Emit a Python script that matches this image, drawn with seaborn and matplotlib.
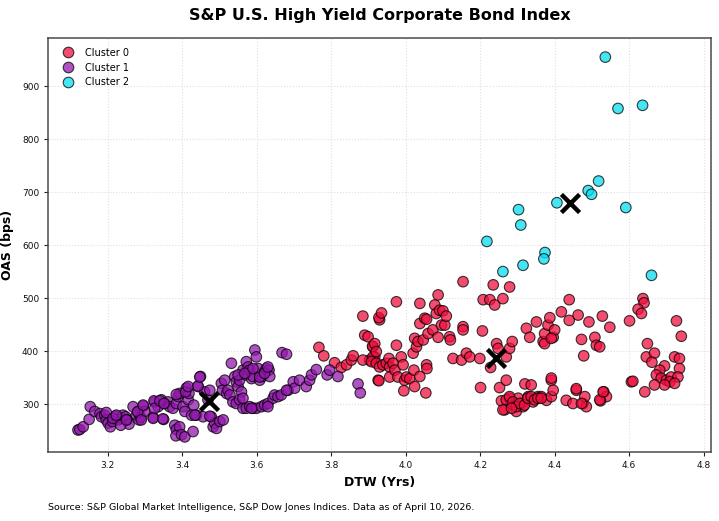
import matplotlib
matplotlib.use('Agg')
import matplotlib.pyplot as plt
import seaborn as sns
import pandas as pd

# data kluster (DTW dalam tahun, OAS dalam bps)
dtw_c0 = [3.767, 3.780, 3.809, 3.827, 3.841, 3.854, 3.859, 3.885, 3.890, 3.899, 3.903, 3.912, 3.917, 3.926, 3.930,
          3.885, 3.911, 3.917, 3.912, 3.921, 3.928, 3.935, 3.928, 3.908, 3.921, 3.930, 3.939, 3.948, 3.955, 3.957,
          3.957, 3.966, 3.971, 3.975, 3.975, 3.979, 3.988, 3.993, 3.997, 3.995, 4.002, 4.011, 4.020, 4.022, 4.024,
          4.024, 4.029, 4.033, 4.038, 4.038, 4.038, 4.047, 4.051, 4.056, 4.054, 4.056, 4.057, 4.060, 4.073, 4.078,
          4.082, 4.087, 4.087, 4.091, 4.096, 4.105, 4.100, 4.109, 4.118, 4.120, 4.127, 4.150, 4.154, 4.154, 4.154,
          4.163, 4.172, 4.199, 4.201, 4.206, 4.208, 4.226, 4.235, 4.239, 4.261, 4.279, 4.244, 4.248, 4.270, 4.279,
          4.286, 4.228, 4.252, 4.270, 4.257, 4.266, 4.279, 4.284, 4.297, 4.302, 4.311, 4.315, 4.320, 4.324, 4.329,
          4.333, 4.337, 4.342, 4.351, 4.355, 4.364, 4.369, 4.373, 4.378, 4.373, 4.382, 4.387, 4.391, 4.391, 4.396,
          4.400, 4.396, 4.418, 4.431, 4.439, 4.439, 4.449, 4.458, 4.463, 4.472, 4.476, 4.481, 4.485, 4.478, 4.492,
          4.508, 4.512, 4.521, 4.528, 4.532, 4.539, 4.523, 4.548,
          4.270, 4.279, 4.288, 4.297, 4.306, 4.319, 4.328, 4.337, 4.346, 4.355, 4.364, 4.261, 4.284,
          4.391, 4.458, 4.472, 4.521, 4.530, 4.606, 4.391,
          4.637, 4.640, 4.624, 4.633, 4.601, 4.727, 4.740, 4.649, 4.646, 4.668, 4.661, 4.722, 4.735, 4.695, 4.735,
          4.682, 4.673, 4.686, 4.700, 4.713, 4.731, 4.709, 4.722, 4.695, 4.668, 4.610, 4.642]
oas_c0 = [407, 391, 378, 369, 374, 383, 391, 466, 430, 427, 383, 408, 389, 345, 459,
          383, 409, 414, 389, 399, 463, 472, 344, 380, 377, 370, 374, 377, 386, 370,
          351, 377, 364, 411, 493, 351, 389, 374, 345, 325, 351, 348, 396, 364, 424,
          333, 408, 418, 490, 452, 352, 421, 462, 460, 321, 374, 367, 433, 440, 487,
          471, 506, 426, 477, 449, 449, 476, 466, 427, 421, 386, 383, 531, 446, 440,
          396, 389, 386, 331, 438, 497, 497, 525, 487, 499, 521, 414, 405, 389, 405,
          418, 369, 331, 345, 306, 289, 311, 301, 286, 311, 301, 295, 338, 443, 314,
          426, 336, 304, 455, 314, 314, 418, 414, 307, 433, 449, 463, 314, 345, 426,
          440, 326, 474, 307, 497, 458, 301, 326, 468, 422, 301, 314, 295, 391, 455,
          426, 411, 408, 466, 323, 314, 306, 445,
          308, 314, 304, 295, 301, 298, 311, 314, 308, 311, 311, 289, 292,
          349, 329, 301, 308, 323, 342, 424,
          499, 491, 479, 471, 457, 457, 428, 414, 389, 396, 379, 389, 386, 372, 367,
          364, 355, 349, 345, 351, 351, 342, 339, 336, 336, 343, 323]

dtw_c1 = [3.120, 3.125, 3.134, 3.150, 3.153, 3.165, 3.179, 3.183, 3.192, 3.196, 3.201, 3.207, 3.213, 3.221, 3.228,
          3.237, 3.241, 3.248, 3.252, 3.257, 3.268, 3.277, 3.281, 3.284, 3.289, 3.295, 3.299, 3.322, 3.326, 3.335,
          3.344, 3.350, 3.353, 3.362, 3.366, 3.375, 3.384, 3.389, 3.393, 3.402, 3.407, 3.411, 3.416, 3.418, 3.425,
          3.431, 3.438, 3.443, 3.449, 3.456, 3.460, 3.469, 3.474, 3.478, 3.483, 3.487, 3.492, 3.501, 3.505, 3.508,
          3.514, 3.519, 3.523, 3.528, 3.532, 3.541, 3.545, 3.550, 3.554, 3.559, 3.563, 3.570, 3.572, 3.577, 3.581,
          3.586, 3.590, 3.595, 3.599, 3.604, 3.608, 3.615, 3.621, 3.626, 3.633, 3.635, 3.536, 3.545, 3.554, 3.563,
          3.572, 3.581, 3.590, 3.599, 3.613, 3.621, 3.630, 3.644, 3.648, 3.657, 3.666, 3.668, 3.680, 3.684, 3.698,
          3.702, 3.715, 3.733, 3.742, 3.747, 3.760, 3.789, 3.796, 3.818, 3.872, 3.878, 3.380, 3.384, 3.393, 3.383,
          3.398, 3.407, 3.429,
          3.196, 3.214, 3.223, 3.235, 3.250, 3.280, 3.295, 3.290, 3.324, 3.326, 3.340, 3.351, 3.384, 3.409, 3.416,
          3.442, 3.447, 3.434, 3.474, 3.510, 3.322, 3.348,
          3.550, 3.568, 3.590, 3.608, 3.621, 3.630, 3.563, 3.586, 3.630, 3.680]
oas_c1 = [251, 252, 257, 271, 295, 286, 282, 276, 279, 270, 264, 257, 267, 277, 270,
          273, 279, 276, 270, 262, 295, 279, 286, 270, 275, 296, 286, 275, 304, 295,
          308, 271, 301, 304, 295, 292, 301, 314, 320, 295, 286, 330, 308, 320, 279,
          298, 279, 333, 352, 276, 323, 308, 326, 276, 257, 264, 254, 267, 339, 326,
          345, 320, 326, 317, 377, 352, 342, 333, 345, 323, 364, 355, 380, 370, 364,
          348, 352, 402, 389, 367, 345, 352, 361, 367, 364, 352, 304, 301, 308, 292,
          292, 295, 292, 292, 295, 298, 301, 311, 317, 314, 317, 397, 394, 326, 342,
          330, 345, 333, 345, 355, 365, 355, 364, 352, 338, 321, 260, 252, 257, 240,
          242, 238, 248,
          284, 273, 279, 260, 270, 285, 298, 270, 306, 292, 306, 301, 318, 323, 333,
          334, 351, 279, 277, 270, 273, 272,
          355, 358, 367, 351, 358, 370, 311, 292, 295, 326]

dtw_c2 = [4.536, 4.570, 4.636, 4.518, 4.490, 4.499, 4.406, 4.591, 4.303, 4.309, 4.218, 4.374, 4.371, 4.315, 4.261, 4.660]
oas_c2 = [955, 858, 864, 721, 703, 696, 680, 671, 667, 638, 607, 586, 574, 562, 550, 543]

# pusat kluster (tanda X)
centroid_dtw = [4.242, 3.471, 4.442]
centroid_oas = [387, 306, 679]

cluster_names = ['Cluster 0', 'Cluster 1', 'Cluster 2']
cluster_colors = {'Cluster 0': '#F0103F', 'Cluster 1': '#9418AE', 'Cluster 2': '#08DDF0'}

df = pd.concat([
    pd.DataFrame({'DTW': dtw_c0, 'OAS': oas_c0, 'Cluster': 'Cluster 0'}),
    pd.DataFrame({'DTW': dtw_c1, 'OAS': oas_c1, 'Cluster': 'Cluster 1'}),
    pd.DataFrame({'DTW': dtw_c2, 'OAS': oas_c2, 'Cluster': 'Cluster 2'}),
], ignore_index=True)

sns.set_style('white')
plt.rcParams['font.family'] = ['DejaVu Sans']
plt.rcParams['text.color'] = 'black'
plt.rcParams['axes.labelcolor'] = 'black'

fig, ax = plt.subplots(figsize=(7.19, 5.21), dpi=100)
fig.subplots_adjust(left=0.067, right=0.989, top=0.927, bottom=0.132)

sns.scatterplot(data=df, x='DTW', y='OAS', hue='Cluster', hue_order=cluster_names,
                palette=cluster_colors, s=58, alpha=0.75, edgecolor='black', linewidth=0.8, ax=ax)
ax.scatter(centroid_dtw, centroid_oas, marker='x', color='black', s=170, linewidths=3.2, zorder=5)

ax.set_xlim(3.04, 4.82)
ax.set_ylim(209, 991)
ax.set_xticks([3.2, 3.4, 3.6, 3.8, 4.0, 4.2, 4.4, 4.6, 4.8])
ax.set_yticks([300, 400, 500, 600, 700, 800, 900])
ax.tick_params(axis='both', labelsize=6.5, length=3, width=0.8, direction='out',
               colors='#222222', labelcolor='#111111')
ax.xaxis.set_ticks_position('bottom')
ax.yaxis.set_ticks_position('left')
ax.grid(True, linestyle=':', linewidth=0.8, color='#d8d8d8', alpha=0.8)
for sp in ax.spines.values():
    sp.set_color('#4a4a4a')
    sp.set_linewidth(1.1)

ax.set_xlabel('DTW (Yrs)', fontsize=9, fontweight='bold', labelpad=4)
ax.set_ylabel('OAS (bps)', fontsize=9, fontweight='bold', labelpad=6)

leg = ax.legend(loc='upper left', frameon=False, fontsize=7, handletextpad=0.8, borderaxespad=0.6)
for h in leg.legend_handles:
    h.set_alpha(0.75)

fig.text(0.528, 0.971, 'S&P U.S. High Yield Corporate Bond Index', ha='center', va='center',
         fontsize=11.5, fontweight='bold', color='black')
fig.text(0.067, 0.025, 'Source: S&P Global Market Intelligence, S&P Dow Jones Indices. Data as of April 10, 2026.',
         ha='left', va='center', fontsize=6.8, color='black')

plt.savefig('out.png', dpi=100)
plt.close()
